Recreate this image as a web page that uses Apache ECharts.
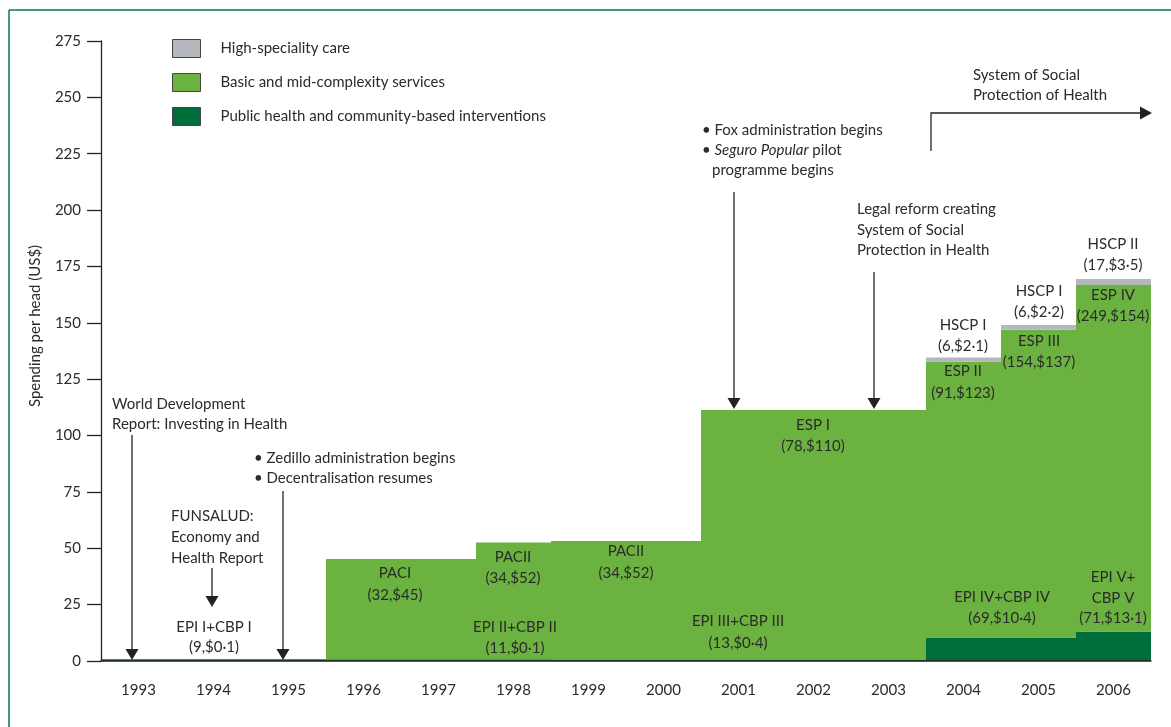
<!DOCTYPE html>
<html>
<head>
<meta charset="utf-8">
<script src="https://cdn.jsdelivr.net/npm/echarts@6/dist/echarts.min.js"></script>
<style>
html,body{margin:0;padding:0;background:#fff;}
#chart{width:1171px;height:727px;}
</style>
</head>
<body>
<div id="chart"></div>
<script>
// ---- data ----
const years = ['1993','1994','1995','1996','1997','1998','1999','2000','2001','2002','2003','2004','2005','2006'];
const publicHealth = [0.8,0.8,0.8,0.8,0.8,0.8,0.4,0.4,0.4,0.4,0.4,10.4,10.4,13.1];
const basicServices = [0,0,0,44.4,44.4,51.8,52.8,52.8,110.9,110.9,110.9,122.4,136.5,153.7];
const highSpeciality = [0,0,0,0,0,0,0,0,0,0,0,1.8,2.1,2.6];
const yTicks = [0,25,50,75,100,125,150,175,200,225,250,275];
const seriesNames = ['High-speciality care','Basic and mid-complexity services','Public health and community-based interventions'];

const FONT = 'Lato';
const FS = 15;
const TXT = '#2b2b2b';
const chart = echarts.init(document.getElementById('chart'));

function t(x, y, text, align, extra) {
  return Object.assign({
    type: 'text', x: x, y: y, z: 50,
    style: {text: text, fill: TXT, font: FS + 'px ' + FONT, align: align || 'center', verticalAlign: 'middle'}
  }, extra || {});
}
function downArrow(x, y1, tip) {
  return [
    {type: 'line', z: 50, shape: {x1: x, y1: y1, x2: x, y2: tip - 10}, style: {stroke: '#222', lineWidth: 1.3}},
    {type: 'polygon', z: 50, shape: {points: [[x - 6.5, tip - 11], [x + 6.5, tip - 11], [x, tip]]}, style: {fill: '#222'}}
  ];
}

const graphics = [
  // frame
  {type: 'line', shape: {x1: 9, y1: 10, x2: 1171, y2: 10}, style: {stroke: '#0a7a40', lineWidth: 1.5}},
  {type: 'line', shape: {x1: 9, y1: 10, x2: 9, y2: 727}, style: {stroke: '#0a7a40', lineWidth: 1.5}},
  // y axis name
  t(35, 326, 'Spending per head (US$)', 'center', {rotation: Math.PI / 2}),
  // 1993
  t(112, 404, 'World Development', 'left'),
  t(112, 424, 'Report: Investing in Health', 'left'),
  ...downArrow(132, 435, 660),
  // 1994
  t(171, 516, 'FUNSALUD:', 'left'),
  t(171, 537, 'Economy and', 'left'),
  t(171, 558, 'Health Report', 'left'),
  ...downArrow(212, 568, 607),
  t(214, 627, 'EPI I+CBP I'),
  t(214, 647, '(9,$0·1)'),
  // 1995
  t(254, 458, '• Zedillo administration begins', 'left'),
  t(254, 478, '• Decentralisation resumes', 'left'),
  ...downArrow(283, 491, 660),
  // 1996
  t(395, 573, 'PACI'),
  t(395, 595, '(32,$45)'),
  // 1998
  t(513, 557, 'PACII'),
  t(513, 578, '(34,$52)'),
  t(515, 627, 'EPI II+CBP II'),
  t(515, 648, '(11,$0·1)'),
  // 1999-2000
  t(626, 551, 'PACII'),
  t(626, 573, '(34,$52)'),
  t(738, 621, 'EPI III+CBP III'),
  t(738, 643, '(13,$0·4)'),
  // 2001
  t(702, 130, '• Fox administration begins', 'left'),
  {type: 'text', x: 702, y: 150, z: 50, style: {
    text: '• {i|Seguro Popular} pilot', fill: TXT, font: FS + 'px ' + FONT, align: 'left', verticalAlign: 'middle',
    rich: {i: {fontStyle: 'italic', fontFamily: FONT, fontSize: FS, fill: TXT}}
  }},
  t(712, 170, 'programme begins', 'left'),
  ...downArrow(734, 192, 409),
  t(813, 425, 'ESP I'),
  t(813, 446, '(78,$110)'),
  // 2003
  t(857, 209, 'Legal reform creating', 'left'),
  t(857, 230, 'System of Social', 'left'),
  t(857, 250, 'Protection in Health', 'left'),
  ...downArrow(874, 272, 409),
  // System of Social Protection arrow
  t(973, 75, 'System of Social', 'left'),
  t(973, 95, 'Protection of Health', 'left'),
  {type: 'polyline', z: 50, shape: {points: [[931, 151], [931, 113], [1141, 113]]}, style: {stroke: '#222', lineWidth: 1.3, fill: null}},
  {type: 'polygon', z: 50, shape: {points: [[1140, 106.5], [1140, 119.5], [1152, 113]]}, style: {fill: '#222'}},
  // 2004
  t(963, 325, 'HSCP I'),
  t(963, 346, '(6,$2·1)'),
  t(963, 371, 'ESP II'),
  t(963, 393, '(91,$123)'),
  // 2005
  t(1039, 291, 'HSCP I'),
  t(1039, 312, '(6,$2·2)'),
  t(1039, 341, 'ESP III'),
  t(1039, 362, '(154,$137)'),
  t(1002, 597, 'EPI IV+CBP IV'),
  t(1002, 618, '(69,$10·4)'),
  // 2006
  t(1113, 244, 'HSCP II'),
  t(1113, 265, '(17,$3·5)'),
  t(1113, 295, 'ESP IV'),
  t(1113, 316, '(249,$154)'),
  t(1113, 577, 'EPI V+'),
  t(1113, 598, 'CBP V'),
  t(1113, 618, '(71,$13·1)')
];

const option = {
  animation: false,
  backgroundColor: '#fff',
  textStyle: {fontFamily: FONT, color: TXT},
  grid: {left: 101, right: 20, top: 41, bottom: 66, containLabel: false},
  legend: {
    left: 172, top: 39, orient: 'vertical', padding: 0,
    data: seriesNames,
    itemWidth: 28, itemHeight: 18, itemGap: 15,
    icon: 'rect',
    itemStyle: {borderColor: '#444', borderWidth: 1},
    textStyle: {fontFamily: FONT, fontSize: FS, color: TXT, lineHeight: 18, padding: [0, 0, 0, 15]},
    selectedMode: false
  },
  xAxis: {
    type: 'category', data: years, boundaryGap: true, z: 10,
    axisLine: {lineStyle: {color: '#222', width: 1.5}},
    axisTick: {length: 14, lineStyle: {color: '#222', width: 1.3}},
    axisLabel: {fontFamily: FONT, fontSize: FS, color: TXT, margin: 22},
    splitLine: {show: false}
  },
  yAxis: {
    type: 'value', min: 0, max: 275, interval: 25, z: 10,
    axisLine: {show: true, lineStyle: {color: '#222', width: 1.3}},
    axisTick: {show: true, length: 14, lineStyle: {color: '#222', width: 1.3}},
    axisLabel: {fontFamily: FONT, fontSize: FS, color: TXT, margin: 20,
      formatter: v => yTicks.indexOf(v) >= 0 ? String(v) : ''},
    splitLine: {show: false}
  },
  series: [
    {name: seriesNames[2], type: 'bar', stack: 's', data: publicHealth, barCategoryGap: 0, barWidth: '100%',
      itemStyle: {color: '#006e3a'}},
    {name: seriesNames[1], type: 'bar', stack: 's', data: basicServices, barCategoryGap: 0, barWidth: '100%',
      itemStyle: {color: '#6cb240'}},
    {name: seriesNames[0], type: 'bar', stack: 's', data: highSpeciality, barCategoryGap: 0, barWidth: '100%',
      itemStyle: {color: '#b4b8bd'}}
  ],
  graphic: graphics
};
chart.setOption(option);
</script>
</body>
</html>
